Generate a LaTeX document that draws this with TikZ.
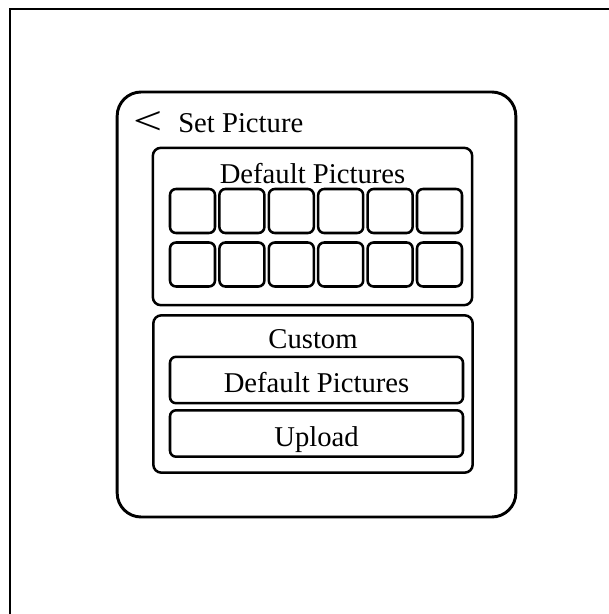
\documentclass[tikz,border=0pt]{standalone}
\usepackage{fontspec}
\setmainfont{Liberation Serif}
\tikzset{
  frame/.style={line width=2.2pt},
  phone/.style={draw, line width=2.2pt, rounded corners=18pt, minimum width=299pt, minimum height=318.75pt},
  panel/.style={draw, line width=1.9pt, rounded corners=6pt, minimum width=239.5pt, minimum height=118pt},
  thumb/.style={draw, line width=1.9pt, rounded corners=4.5pt, minimum width=33.75pt, minimum height=33pt, inner sep=0pt},
  button/.style={draw, line width=1.9pt, rounded corners=4.5pt, minimum width=219.75pt, minimum height=34.8pt, inner sep=0pt, text height=19pt, text depth=0pt},
  label/.style={inner sep=0pt, font=\fontsize{21.5}{26}\selectfont}
}

\begin{document}
\begin{tikzpicture}[x=0.75pt,y=-0.75pt]
  \useasboundingbox (0,0) rectangle (609,614);

  % frame, only top and left edges show
  \draw [frame] (609,9) -- (10,9) -- (10,614);

  % phone screen
  \node [phone] (screen) at (316.5,304.5) {};
  \node [label] (back) at (148.5,123) {\scalebox{1.8}[1.4]{<}};
  \node [label, anchor=base west] (title) at (178,132) {Set Picture};

  % default pictures
  \node [panel] (defpanel) at (312.5,226.5) {};
  \node [label, anchor=base] (deftitle) at (312.5,183) {Default Pictures};
  \foreach \i in {0,...,5} {
    \node [thumb] (thumbA\i) at ({192.5+49.4*\i},211) {};
    \node [thumb] (thumbB\i) at ({192.5+49.4*\i},264.5) {};
  }

  % custom
  \node [panel] (cuspanel) at (313,394) {};
  \node [label, anchor=base] (custitle) at (313,348) {Custom};
  \node [label, button] (defbtn) at (316.5,380) {Default Pictures};
  \node [label, button] (upbtn) at (316.5,433.5) {Upload};
\end{tikzpicture}
\end{document}
